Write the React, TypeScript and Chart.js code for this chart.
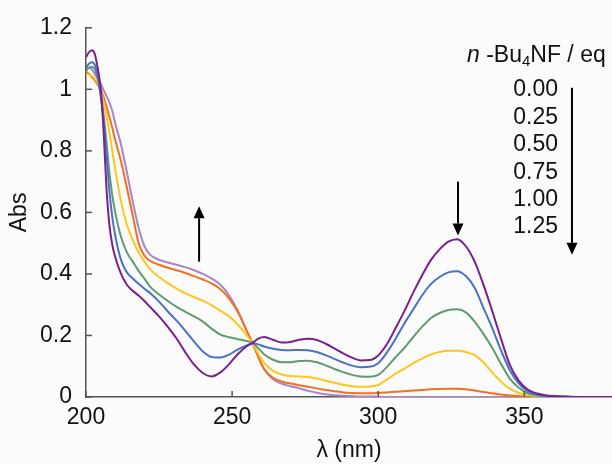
import React, { useEffect, useRef } from 'react';
import { Chart, registerables } from 'chart.js';

Chart.register(...registerables);

// wavelength (nm)
const wavelengths = [
  200, 201, 202, 203, 204, 205, 206, 207, 208, 209, 210,
  212, 214, 216, 218, 220, 222,
  225, 228, 231, 234, 237, 240, 243, 246, 249, 252, 255,
  257, 259, 261,
  264, 267, 270, 273, 276, 279, 282, 285, 288, 291, 294, 297, 300, 303, 306, 309, 312, 315, 318, 321, 324, 327, 330, 333, 336, 339, 342, 345, 348, 351, 354, 357, 360,
  365, 370, 375, 380,
];

const abs000 = [
  1.105, 1.12, 1.127, 1.115, 1.07, 1.005, 0.87, 0.68, 0.56, 0.495, 0.455,
  0.4, 0.365, 0.345, 0.33, 0.312, 0.292,
  0.262, 0.228, 0.19, 0.145, 0.105, 0.078, 0.067, 0.08, 0.107, 0.14, 0.165,
  0.176, 0.19, 0.195,
  0.186, 0.177, 0.179, 0.186, 0.189, 0.185, 0.173, 0.158, 0.142, 0.128, 0.119, 0.12, 0.135, 0.172, 0.225, 0.28, 0.34, 0.395, 0.445, 0.48, 0.505, 0.513, 0.49, 0.44, 0.365, 0.28, 0.19, 0.105, 0.054, 0.025, 0.012, 0.006, 0.003,
  0.001, 0, 0, 0,
];

const abs025 = [
  1.07, 1.083, 1.088, 1.08, 1.045, 0.98, 0.9, 0.79, 0.67, 0.585, 0.525,
  0.445, 0.405, 0.385, 0.368, 0.352, 0.337,
  0.31, 0.278, 0.248, 0.215, 0.18, 0.148, 0.13, 0.128, 0.138, 0.155, 0.168,
  0.175, 0.171, 0.164,
  0.157, 0.153, 0.152, 0.153, 0.152, 0.146, 0.136, 0.124, 0.112, 0.102, 0.097, 0.098, 0.11, 0.145, 0.19, 0.24, 0.285, 0.33, 0.367, 0.39, 0.405, 0.409, 0.393, 0.355, 0.29, 0.225, 0.152, 0.088, 0.045, 0.02, 0.009, 0.004, 0.002,
  0.001, 0, 0, 0,
];

const abs050 = [
  1.06, 1.07, 1.073, 1.065, 1.035, 0.985, 0.92, 0.83, 0.73, 0.655, 0.6,
  0.52, 0.47, 0.44, 0.41, 0.385, 0.358,
  0.333, 0.312, 0.293, 0.277, 0.262, 0.245, 0.222, 0.203, 0.194, 0.188, 0.182,
  0.176, 0.158, 0.138,
  0.121, 0.113, 0.113, 0.117, 0.118, 0.113, 0.103, 0.091, 0.081, 0.072, 0.067, 0.066, 0.072, 0.098, 0.13, 0.16, 0.195, 0.228, 0.256, 0.273, 0.283, 0.285, 0.275, 0.245, 0.205, 0.16, 0.108, 0.06, 0.031, 0.013, 0.006, 0.003, 0.001,
  0, 0, 0, 0,
];

const abs075 = [
  1.05, 1.048, 1.043, 1.035, 1.02, 0.995, 0.96, 0.915, 0.86, 0.8, 0.74,
  0.635, 0.56, 0.51, 0.47, 0.44, 0.415,
  0.39, 0.37, 0.352, 0.337, 0.325, 0.313, 0.298, 0.28, 0.262, 0.235, 0.2,
  0.175, 0.14, 0.11,
  0.085, 0.073, 0.068, 0.067, 0.065, 0.06, 0.053, 0.046, 0.04, 0.035, 0.033, 0.034, 0.039, 0.057, 0.076, 0.092, 0.11, 0.125, 0.138, 0.146, 0.15, 0.15, 0.146, 0.136, 0.112, 0.08, 0.05, 0.027, 0.014, 0.007, 0.003, 0.002, 0.001,
  0, 0, 0, 0,
];

const abs100 = [
  1.057, 1.05, 1.04, 1.03, 1.015, 1.0, 0.975, 0.945, 0.91, 0.875, 0.835,
  0.765, 0.68, 0.59, 0.5, 0.46, 0.442,
  0.43, 0.42, 0.412, 0.403, 0.393, 0.382, 0.369, 0.35, 0.32, 0.275, 0.215,
  0.175, 0.13, 0.09,
  0.062, 0.05, 0.044, 0.038, 0.033, 0.028, 0.023, 0.019, 0.015, 0.013, 0.012, 0.012, 0.013, 0.015, 0.017, 0.019, 0.021, 0.023, 0.025, 0.026, 0.027, 0.027, 0.025, 0.021, 0.016, 0.012, 0.008, 0.005, 0.003, 0.001, 0, 0, 0,
  0, 0, 0, 0,
];

const abs125 = [
  1.065, 1.07, 1.065, 1.05, 1.035, 1.018, 0.998, 0.978, 0.958, 0.93, 0.89,
  0.82, 0.73, 0.635, 0.55, 0.49, 0.462,
  0.446, 0.437, 0.43, 0.422, 0.412, 0.4, 0.385, 0.365, 0.33, 0.28, 0.215,
  0.175, 0.13, 0.09,
  0.058, 0.043, 0.035, 0.028, 0.02, 0.014, 0.009, 0.006, 0.004, 0.003, 0.002, 0.002, 0.001, 0, 0, 0, 0, 0, 0, 0, 0, 0, 0, 0, 0, 0, 0, 0, 0, 0, 0, 0, 0,
  0, 0, 0, 0,
];

const equivalents = ['0.00', '0.25', '0.50', '0.75', '1.00', '1.25'];
const seriesValues = [abs000, abs025, abs050, abs075, abs100, abs125];
const seriesColors = ['#7a1f8e', '#4a72c2', '#5e9c70', '#ffc61e', '#f2701f', '#a985cc'];

const xTicks = [200, 250, 300, 350];
const yTicks = [0, 0.2, 0.4, 0.6, 0.8, 1.0, 1.2];

// annotation arrows in data units
const upArrow = { x: 238.7, from: 0.44, to: 0.62 };
const downArrow = { x: 327.3, from: 0.70, to: 0.525 };
const legendArrow = { x: 366.3, from: 1.005, to: 0.462 };

const FONT = '"Liberation Sans", Arial, Helvetica, sans-serif';
const TEXT = '#111111';
const AXIS = '#555555';

function drawArrow(ctx: CanvasRenderingContext2D, x: number, y1: number, y2: number) {
  const dir = y2 < y1 ? -1 : 1;
  const head = 12;
  const hw = 5.5;
  ctx.beginPath();
  ctx.moveTo(x, y1);
  ctx.lineTo(x, y2 - dir * head);
  ctx.lineWidth = 2;
  ctx.strokeStyle = '#000';
  ctx.stroke();
  ctx.beginPath();
  ctx.moveTo(x, y2);
  ctx.lineTo(x - hw, y2 - dir * head);
  ctx.lineTo(x + hw, y2 - dir * head);
  ctx.closePath();
  ctx.fillStyle = '#000';
  ctx.fill();
}

const overlayPlugin = {
  id: 'overlay',
  beforeDraw(chart: any) {
    const { ctx, width, height } = chart;
    ctx.save();
    ctx.fillStyle = '#fbfbfb';
    ctx.fillRect(0, 0, width, height);
    ctx.restore();
  },
  afterDraw(chart: any) {
    const ctx: CanvasRenderingContext2D = chart.ctx;
    const xs = chart.scales.x;
    const ys = chart.scales.y;
    ctx.save();
    // inward tick marks
    ctx.strokeStyle = AXIS;
    ctx.lineWidth = 1.5;
    yTicks.forEach((v) => {
      const py = ys.getPixelForValue(v);
      ctx.beginPath();
      ctx.moveTo(xs.left, py);
      ctx.lineTo(xs.left + 6, py);
      ctx.stroke();
    });
    xTicks.forEach((v) => {
      const px = xs.getPixelForValue(v);
      ctx.beginPath();
      ctx.moveTo(px, ys.bottom);
      ctx.lineTo(px, ys.bottom - 6);
      ctx.stroke();
    });

    // arrows
    drawArrow(ctx, xs.getPixelForValue(upArrow.x), ys.getPixelForValue(upArrow.from), ys.getPixelForValue(upArrow.to));
    drawArrow(ctx, xs.getPixelForValue(downArrow.x), ys.getPixelForValue(downArrow.from), ys.getPixelForValue(downArrow.to));
    drawArrow(ctx, xs.getPixelForValue(legendArrow.x), ys.getPixelForValue(legendArrow.from), ys.getPixelForValue(legendArrow.to));

    // legend header: n-Bu4NF / eq
    ctx.fillStyle = TEXT;
    ctx.textBaseline = 'middle';
    ctx.textAlign = 'left';
    let hx = 467;
    const hy = 56;
    ctx.font = `italic 23px ${FONT}`;
    ctx.fillText('n', hx, hy);
    hx += ctx.measureText('n').width;
    ctx.font = `23px ${FONT}`;
    ctx.fillText(' -Bu', hx, hy);
    hx += ctx.measureText(' -Bu').width;
    ctx.font = `15px ${FONT}`;
    ctx.fillText('4', hx, hy + 6);
    hx += ctx.measureText('4').width;
    ctx.font = `23px ${FONT}`;
    ctx.fillText('NF / eq', hx, hy);

    // legend entries
    ctx.textAlign = 'right';
    chart.data.datasets.forEach((ds: any, i: number) => {
      ctx.fillText(ds.label, 558, 90 + i * 27.4);
    });
    ctx.restore();
  },
};

export default function App() {
  const canvasRef = useRef<HTMLCanvasElement | null>(null);

  useEffect(() => {
    const canvas = canvasRef.current;
    if (!canvas) return;
    const chart = new Chart(canvas, {
      type: 'line',
      data: {
        datasets: seriesValues.map((vals, i) => ({
          label: equivalents[i],
          data: wavelengths.map((w, j) => ({ x: w, y: vals[j] })),
          borderColor: seriesColors[i],
          backgroundColor: seriesColors[i],
          borderWidth: 2,
          pointRadius: 0,
          fill: false,
          cubicInterpolationMode: 'monotone' as const,
        })),
      },
      options: {
        responsive: false,
        animation: false,
        devicePixelRatio: 1,
        layout: { padding: { top: 22, right: 0, left: 0, bottom: 0 } },
        plugins: { legend: { display: false }, tooltip: { enabled: false } },
        scales: {
          x: {
            type: 'linear',
            min: 200,
            max: 380,
            afterBuildTicks: (scale: any) => {
              scale.ticks = xTicks.map((v) => ({ value: v }));
            },
            afterFit: (scale: any) => {
              scale.height = 67;
            },
            grid: { display: false, drawTicks: false },
            border: { display: true, color: AXIS, width: 1.5 },
            ticks: {
              padding: 7,
              color: TEXT,
              font: { family: FONT, size: 23 },
              maxRotation: 0,
              autoSkip: false,
            },
            title: {
              display: true,
              text: 'λ (nm)',
              color: TEXT,
              font: { family: FONT, size: 23 },
              padding: { top: 0, bottom: 0 },
            },
          },
          y: {
            type: 'linear',
            min: 0,
            max: 1.2,
            afterBuildTicks: (scale: any) => {
              scale.ticks = yTicks.map((v) => ({ value: v }));
            },
            afterFit: (scale: any) => {
              scale.width = 86;
            },
            grid: { display: false, drawTicks: false },
            border: { display: true, color: AXIS, width: 1.5 },
            ticks: {
              padding: 14,
              color: TEXT,
              font: { family: FONT, size: 23 },
              callback: (v: any) => String(Math.round(Number(v) * 10) / 10),
            },
            title: {
              display: true,
              text: 'Abs',
              color: TEXT,
              font: { family: FONT, size: 23 },
              padding: { top: 6, bottom: 0 },
            },
          },
        },
      },
      plugins: [overlayPlugin],
    });
    return () => chart.destroy();
  }, []);

  return (
    <div style={{ position: 'fixed', left: 0, top: 0, width: 612, height: 464 }}>
      <canvas ref={canvasRef} width={612} height={464} style={{ display: 'block' }} />
    </div>
  );
}
